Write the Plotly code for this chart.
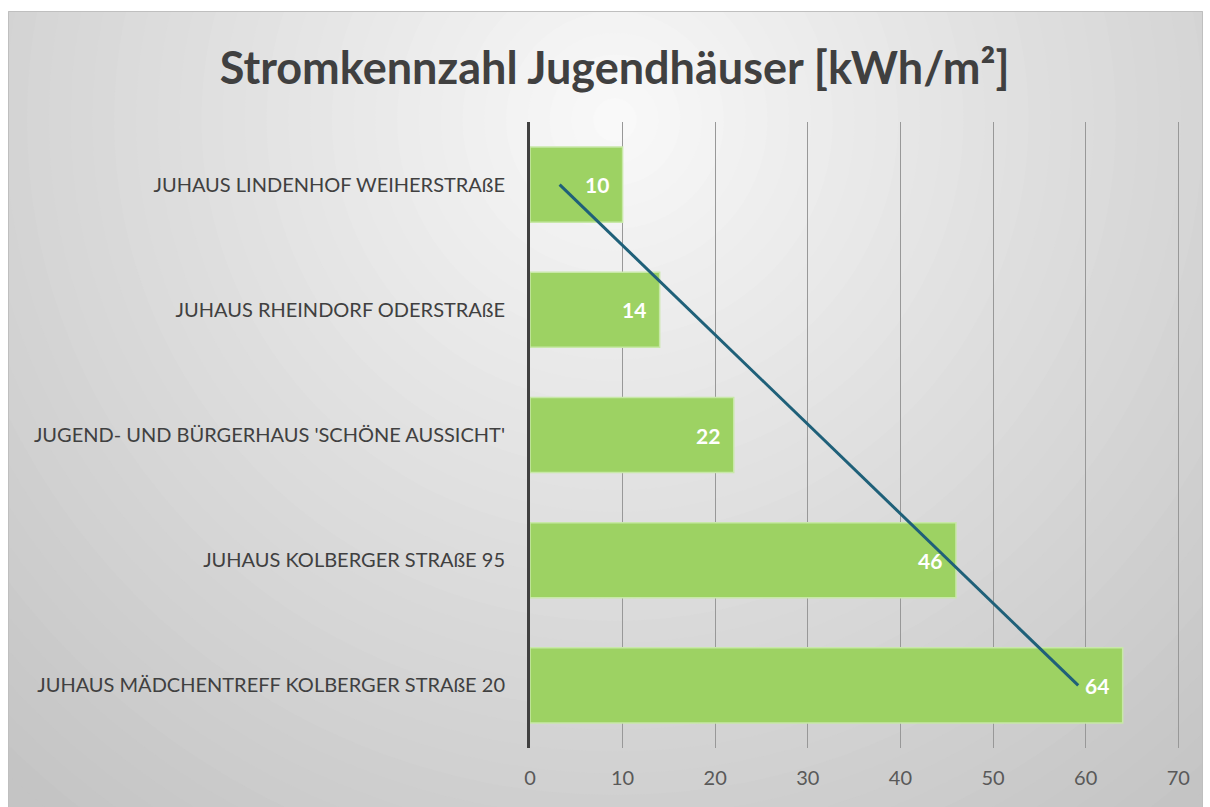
import numpy as np
import plotly.graph_objects as go

categories = [
    "JUHAUS LINDENHOF WEIHERSTRAßE",
    "JUHAUS RHEINDORF ODERSTRAßE",
    "JUGEND- UND BÜRGERHAUS 'SCHÖNE AUSSICHT'",
    "JUHAUS KOLBERGER STRAßE 95",
    "JUHAUS MÄDCHENTREFF KOLBERGER STRAßE 20",
]
values = [10, 14, 22, 46, 64]
x_ticks = [0, 10, 20, 30, 40, 50, 60, 70]
title_text = "Stromkennzahl Jugendhäuser [kWh/m²]"

# linear trendline (least squares over category index, as in Excel)
idx = np.arange(1, len(values) + 1)
slope, intercept = np.polyfit(idx, values, 1)
trend = slope * idx + intercept

W, H = 1210, 807
L, R, T, B = 530, 29, 122, 59
pw, ph = W - L - R, H - T - B

def px(x):
    return (x - L) / pw

def py(y):
    return (H - B - y) / ph

FONT = "Lato"

fig = go.Figure()
fig.add_trace(go.Bar(
    y=categories, x=values, orientation="h",
    marker=dict(color="#9dd263", line=dict(color="#c8e8a8", width=1.5)),
    hoverinfo="x+y", showlegend=False,
))
fig.add_trace(go.Scatter(
    y=categories, x=trend, mode="lines",
    line=dict(color="#1f6079", width=3), showlegend=False, hoverinfo="skip",
))

annotations = [
    dict(x=v, y=c, xref="x", yref="y", text=str(v), showarrow=False,
         xanchor="right", yanchor="middle", xshift=-12,
         font=dict(family=FONT, size=21, color="white", weight="bold"))
    for c, v in zip(categories, values)
]

# radial gradient background
shapes = []
cx, cy = 615, 120
N = 45
Rmax = 980
for i in range(N, 0, -1):
    r = Rmax * i / N
    v = 251 - 55 * min(r / 900, 1.0) ** 0.9
    c = int(round(v))
    shapes.append(dict(type="circle", xref="paper", yref="paper", layer="below",
                       x0=px(cx - r), x1=px(cx + r), y0=py(cy + r), y1=py(cy - r),
                       line=dict(width=0), fillcolor=f"rgb({c},{c},{c})"))
# white outside the chart frame
for (x0, y0, x1, y1) in [(-5, -5, W + 5, 11), (-5, -5, 8, H + 5), (1203, -5, W + 5, H + 5)]:
    shapes.append(dict(type="rect", xref="paper", yref="paper", layer="below",
                       x0=px(x0), x1=px(x1), y0=py(y1), y1=py(y0),
                       line=dict(width=0), fillcolor="white"))
shapes.append(dict(type="rect", xref="paper", yref="paper", layer="below",
                   x0=px(8.5), x1=px(1202.5), y0=py(H + 5), y1=py(11.5),
                   line=dict(color="#bfbfbf", width=1), fillcolor="rgba(0,0,0,0)"))

fig.update_layout(
    width=W, height=H,
    margin=dict(l=L, r=R, t=T, b=B),
    paper_bgcolor="white", plot_bgcolor="rgba(0,0,0,0)",
    shapes=shapes, annotations=annotations,
    bargap=0.4,
    title=dict(text=title_text, x=0.508, xanchor="center", y=1 - 68 / H, yanchor="middle",
               font=dict(family=FONT, size=45, color="#404040", weight="bold")),
    xaxis=dict(range=[0, 70.3], tickvals=x_ticks, showgrid=True, gridcolor="#989898", gridwidth=1,
               zeroline=False, showline=False, ticks="", ticklabelstandoff=16,
               tickfont=dict(family=FONT, size=20, color="#595959"), fixedrange=True),
    yaxis=dict(autorange="reversed", showline=True, linecolor="#404040", linewidth=3,
               ticks="", ticklabelstandoff=18, showgrid=False,
               tickfont=dict(family=FONT, size=20, color="#404040"), fixedrange=True),
    font=dict(family=FONT),
)

fig.write_html("out.html", config={"displayModeBar": False},
               post_script="document.body.style.margin='0';")
